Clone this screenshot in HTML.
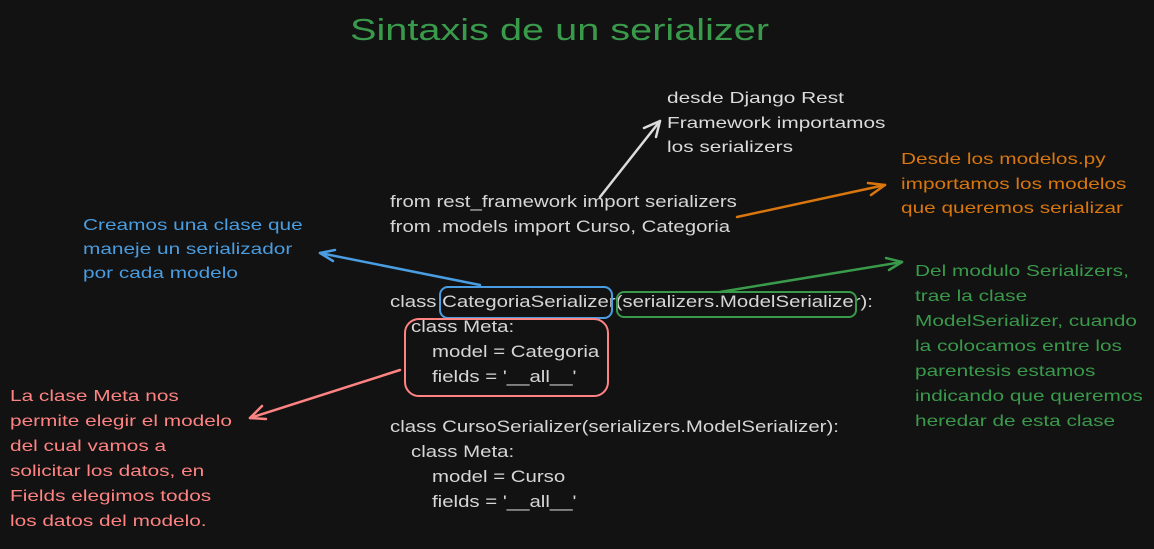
<!DOCTYPE html><html><head><style>
body{margin:0;width:1154px;height:549px;background:#121212;overflow:hidden;position:relative;font-family:"Liberation Sans",sans-serif}
.t{position:absolute;white-space:pre;transform-origin:0 0}
.c{color:#d6d6d6;font-size:17px;line-height:25px;transform:scaleX(1.2)}
.h{font-family:"Liberation Sans",sans-serif;font-size:16px;line-height:25px;transform:scaleX(1.3)}
.l{position:absolute;left:0}
</style></head><body>
<div class="t h" style="left:350px;top:10px;font-size:31px;line-height:40px;color:#3a9a4b;transform:scaleX(1.28)">Sintaxis de un serializer</div>
<div class="t h" style="left:667px;top:87px;color:#dcdcdc;line-height:24.5px">desde Django Rest
Framework importamos
los serializers</div>
<div class="t h" style="left:901px;top:148px;color:#d9770e;line-height:24.5px">Desde los modelos.py
importamos los modelos
que queremos serializar</div>
<div class="t h" style="left:83px;top:214px;color:#4a9de0;line-height:24px">Creamos una clase que
maneje un serializador
por cada modelo</div>
<div class="t h" style="left:915px;top:259px;color:#3a9a4b;line-height:25px">Del modulo Serializers,
trae la clase
ModelSerializer, cuando
la colocamos entre los
parentesis estamos
indicando que queremos
heredar de esta clase</div>
<div class="t h" style="left:10px;top:384px;color:#ff8383;line-height:25px">La clase Meta nos
permite elegir el modelo
del cual vamos a
solicitar los datos, en
Fields elegimos todos
los datos del modelo.</div>
<div class="t c" style="left:390px;top:189px">from rest_framework import serializers
from .models import Curso, Categoria</div>
<div class="t c" style="left:390px;top:289px">class CategoriaSerializer(serializers.ModelSerializer):</div>
<div class="t c" style="left:411px;top:314px">class Meta:</div>
<div class="t c" style="left:432px;top:339px">model = Categoria
fields = '__all__'</div>
<div class="t c" style="left:390px;top:414px">class CursoSerializer(serializers.ModelSerializer):</div>
<div class="t c" style="left:411px;top:439px">class Meta:</div>
<div class="t c" style="left:432px;top:464px">model = Curso
fields = '__all__'</div>
<svg width="1154" height="549" style="position:absolute;left:0;top:0" fill="none" stroke-width="2.5" stroke-linecap="round" stroke-linejoin="round">
<rect x="440" y="287" width="172" height="31" rx="8" stroke="#4a9de0" stroke-width="2"/>
<rect x="617" y="292" width="239" height="25" rx="7" stroke="#3a9a4b" stroke-width="2"/>
<rect x="405" y="319" width="203" height="77" rx="14" stroke="#ff8383" stroke-width="2"/>
<g stroke="#dcdcdc"><path d="M600 197 L660 121"/><path d="M660 121 L644 128 M660 121 L656 137"/></g>
<g stroke="#d9770e"><path d="M737 217 L885 185"/><path d="M885 185 L868 183 M885 185 L871 195"/></g>
<g stroke="#4a9de0"><path d="M480 285 L320 253"/><path d="M320 253 L335 250 M320 253 L333 261"/></g>
<g stroke="#3a9a4b"><path d="M720 292 L902 262"/><path d="M902 262 L886 258 M902 262 L889 270"/></g>
<g stroke="#ff8383"><path d="M400 370 L250 418"/><path d="M250 418 L262 406 M250 418 L266 419"/></g>
</svg>
</body></html>
